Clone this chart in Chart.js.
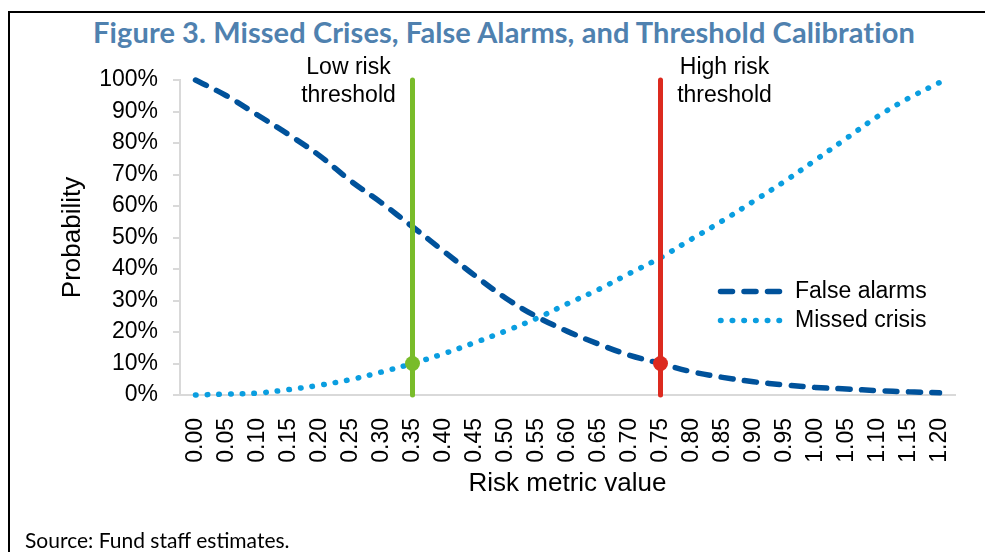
<!DOCTYPE html>
<html>
<head>
<meta charset="utf-8">
<script src="https://cdn.jsdelivr.net/npm/chart.js@4.4.1/dist/chart.umd.min.js"></script>
<style>
  body{margin:0;background:#fff;overflow:hidden;width:985px;height:552px;position:relative;}
  .frame{position:absolute;left:8px;top:11px;width:1000px;height:600px;border-left:2px solid #000;border-top:2px solid #000;}
  .title{position:absolute;left:0;top:14px;width:1008px;text-align:center;font:700 29px Lato, sans-serif;color:#4f81af;white-space:nowrap;letter-spacing:0.1px;}
  .source{position:absolute;left:25px;top:527px;font:21px Lato, sans-serif;color:#000;white-space:nowrap;}
  #chart{position:absolute;left:0;top:0;}
</style>
</head>
<body>
<div class="frame"></div>
<div class="title">Figure 3. Missed Crises, False Alarms, and Threshold Calibration</div>
<canvas id="chart" width="985" height="552"></canvas>
<div class="source">Source: Fund staff estimates.</div>
<script>
// Risk metric values on the x axis
const riskLabels = ['0.00','0.05','0.10','0.15','0.20','0.25','0.30','0.35','0.40','0.45','0.50','0.55','0.60',
  '0.65','0.70','0.75','0.80','0.85','0.90','0.95','1.00','1.05','1.10','1.15','1.20'];

// Probabilities, in percent
const falseAlarms = [100, 95, 88.9, 82.7, 76, 68, 61, 53.4, 45.7, 38, 30.8, 24.9, 20.2,
  16.2, 12.6, 10, 7.4, 5.6, 4.2, 3.2, 2.4, 1.9, 1.4, 1.0, 0.7];
const missedCrisis = [0, 0.3, 0.6, 1.7, 3.1, 4.9, 7.3, 10, 13.1, 16.6, 20.3, 24.3, 29.0,
  33.5, 38.6, 43.6, 49.5, 55.3, 61.5, 67.8, 74.6, 81.5, 88.4, 94.2, 99.2];

const yTicks = [0, 10, 20, 30, 40, 50, 60, 70, 80, 90, 100];

// thresholds: where they sit and the probability marked on them
const lowThreshold = '0.35';
const highThreshold = '0.75';
const thresholdMark = 10;
const lowNote = ['Low risk', 'threshold'];
const highNote = ['High risk', 'threshold'];

const FONT = '"Liberation Sans", Arial, sans-serif';

const overlay = {
  id: 'overlay',
  afterDatasetsDraw(chart) {
    const {ctx, scales: {x}} = chart;
    ctx.save();
    ctx.font = '23px ' + FONT;
    ctx.fillStyle = '#000';
    ctx.textBaseline = 'middle';

    // threshold notes
    ctx.textAlign = 'center';
    const notes = [[lowThreshold, lowNote, -64], [highThreshold, highNote, 64]];
    notes.forEach(([at, lines, dx]) => {
      const px = x.getPixelForValue(riskLabels.indexOf(at)) + dx;
      lines.forEach((t, j) => ctx.fillText(t, px, 68 + j * 28));
    });

    // legend inside the plot
    ctx.textAlign = 'left';
    [0, 1].forEach((i, row) => {
      const ds = chart.data.datasets[i];
      const y = 291.5 + row * 29;
      ctx.save();
      ctx.strokeStyle = ds.borderColor;
      ctx.lineWidth = ds.borderWidth;
      ctx.lineCap = 'round';
      ctx.setLineDash(ds.borderDash);
      ctx.beginPath();
      ctx.moveTo(720.5, y);
      ctx.lineTo(782, y);
      ctx.stroke();
      ctx.restore();
      ctx.fillText(ds.label, 795, y);
    });
    ctx.restore();
  }
};

new Chart(document.getElementById('chart'), {
  type: 'line',
  data: {
    labels: riskLabels,
    datasets: [
      {
        label: 'False alarms',
        data: falseAlarms,
        borderColor: '#00529b',
        borderWidth: 5.5,
        borderDash: [12, 11.5],
        borderCapStyle: 'round',
        tension: 0.35,
        pointRadius: 0,
        order: 3,
        clip: false
      },
      {
        label: 'Missed crisis',
        data: missedCrisis,
        borderColor: '#0a9ee0',
        borderWidth: 5.5,
        borderDash: [0.5, 11.2],
        borderCapStyle: 'round',
        tension: 0.35,
        pointRadius: 0,
        order: 3,
        clip: false
      },
      {
        label: 'Low risk threshold',
        data: [{x: lowThreshold, y: 0}, {x: lowThreshold, y: 100}],
        borderColor: '#79bc2a',
        borderWidth: 5,
        borderCapStyle: 'round',
        pointRadius: 0,
        order: 2,
        clip: false
      },
      {
        label: 'High risk threshold',
        data: [{x: highThreshold, y: 0}, {x: highThreshold, y: 100}],
        borderColor: '#dc2a1f',
        borderWidth: 5,
        borderCapStyle: 'round',
        pointRadius: 0,
        order: 2,
        clip: false
      },
      {
        label: 'Low mark',
        data: [{x: lowThreshold, y: thresholdMark}],
        showLine: false,
        pointRadius: 7.5,
        pointBackgroundColor: '#79bc2a',
        pointBorderWidth: 0,
        order: 1,
        clip: false
      },
      {
        label: 'High mark',
        data: [{x: highThreshold, y: thresholdMark}],
        showLine: false,
        pointRadius: 7.5,
        pointBackgroundColor: '#dc2a1f',
        pointBorderWidth: 0,
        order: 1,
        clip: false
      }
    ]
  },
  options: {
    responsive: false,
    animation: false,
    layout: {padding: {left: 0, top: 80, right: 30, bottom: 0}},
    plugins: {
      legend: {display: false},
      tooltip: {enabled: false},
      title: {display: false}
    },
    scales: {
      x: {
        type: 'category',
        offset: true,
        grid: {display: false},
        border: {display: true, color: '#d9d9d9', width: 2},
        ticks: {
          autoSkip: false,
          minRotation: 90,
          maxRotation: 90,
          padding: 15,
          color: '#000',
          font: {family: FONT, size: 23}
        },
        title: {
          display: true,
          text: 'Risk metric value',
          color: '#000',
          font: {family: FONT, size: 26},
          padding: {top: 0, bottom: 53}
        },
        afterFit(scale) { scale.height = 157; }
      },
      y: {
        min: 0,
        max: 100,
        afterBuildTicks(scale) { scale.ticks = yTicks.map(v => ({value: v})); },
        grid: {display: true, drawOnChartArea: false, drawTicks: true, tickLength: 7, color: '#d9d9d9', lineWidth: 2},
        border: {display: true, color: '#d9d9d9', width: 2},
        ticks: {
          padding: 15,
          color: '#000',
          font: {family: FONT, size: 23},
          callback: v => v + '%'
        },
        title: {
          display: true,
          text: 'Probability',
          color: '#000',
          font: {family: FONT, size: 26},
          padding: {top: 57, bottom: 0}
        },
        afterFit(scale) { scale.width = 180; }
      }
    }
  },
  plugins: [overlay]
});
</script>
</body>
</html>
